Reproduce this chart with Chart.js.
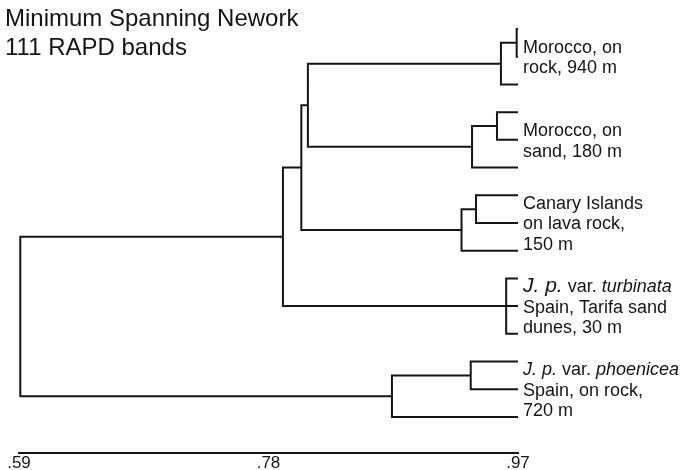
<!DOCTYPE html>
<html>
<head>
<meta charset="utf-8">
<script src="https://cdn.jsdelivr.net/npm/chart.js@4"></script>
<style>
  html, body { margin: 0; padding: 0; background: #fff; }
</style>
</head>
<body>
<canvas id="tree" width="686" height="470"></canvas>
<script>
// dendrogram of RAPD similarity, .59 - .97, leaves in rows 0..14 from the top

const INK = '#151515';
const FONT = '"Liberation Sans", Arial, sans-serif';

const titleLines = ['Minimum Spanning Nework', '111 RAPD bands'];
const axisTicks = [0.59, 0.78, 0.97];
const leafLevel = 0.97;
const rowSpan = 15.3; // rows shown above the scale bar

// joins: level where branches meet, and what they join
// (numbers are leaf rows, strings are other joins)
const nodeIds = ['root', 'west', 'mainland', 'morocco', 'rock', 'rockSub', 'sand', 'sandSub',
  'canary', 'canarySub', 'turbinata', 'phoenicea', 'phoeniceaSub'];
const nodeLevels = [0.591, 0.791, 0.805, 0.810, 0.957, 0.969, 0.935, 0.954,
  0.927, 0.938, 0.961, 0.874, 0.934];
const nodeChildren = [
  ['west', 'phoenicea'],
  ['mainland', 'turbinata'],
  ['morocco', 'canary'],
  ['rock', 'sand'],
  ['rockSub', 2],
  [0, 1],
  ['sandSub', 5],
  [3, 4],
  ['canarySub', 8],
  [6, 7],
  [9, 10, 11],
  ['phoeniceaSub', 14],
  [12, 13]
];

// cluster labels, centred on a leaf row; *...* italic, #...# larger italic
const labelRows = [1, 4, 7, 10, 13];
const labelText = [
  ['Morocco, on', 'rock, 940 m'],
  ['Morocco, on', 'sand, 180 m'],
  ['Canary Islands', 'on lava rock,', '150 m'],
  ['#J. p.# var. *turbinata*', 'Spain, Tarifa sand', 'dunes, 30 m'],
  ['*J. p.* var. *phoenicea*', 'Spain, on rock,', '720 m']
];

function levelOf(ref) {
  return typeof ref === 'number' ? leafLevel : nodeLevels[nodeIds.indexOf(ref)];
}

function rowOf(ref) {
  if (typeof ref === 'number') return ref;
  const kids = nodeChildren[nodeIds.indexOf(ref)].map(rowOf);
  return (Math.min(...kids) + Math.max(...kids)) / 2;
}

// elbow polylines, broken with NaN points
const branchPoints = [];
nodeIds.forEach((id, i) => {
  const lvl = nodeLevels[i];
  const kids = nodeChildren[i];
  const first = kids[0];
  const last = kids[kids.length - 1];
  branchPoints.push(
    { x: levelOf(first), y: rowOf(first) },
    { x: lvl, y: rowOf(first) },
    { x: lvl, y: rowOf(last) },
    { x: levelOf(last), y: rowOf(last) },
    { x: NaN, y: NaN }
  );
  kids.slice(1, -1).forEach(k => {
    branchPoints.push({ x: lvl, y: rowOf(k) }, { x: levelOf(k), y: rowOf(k) }, { x: NaN, y: NaN });
  });
});

const textPlugin = {
  id: 'treeText',
  afterDraw(chart) {
    const { ctx } = chart;
    const x = chart.scales.x;
    const y = chart.scales.y;
    ctx.save();
    ctx.fillStyle = INK;
    ctx.textBaseline = 'alphabetic';
    ctx.textAlign = 'left';

    ctx.font = `24px ${FONT}`;
    titleLines.forEach((t, i) => ctx.fillText(t, 5, 26 + i * 29));

    const left = x.getPixelForValue(leafLevel) + 5;
    labelText.forEach((lines, i) => {
      const mid = y.getPixelForValue(labelRows[i]);
      lines.forEach((line, j) => {
        const base = mid + (j - (lines.length - 1) / 2) * 20.5 + 6.5;
        let cx = left;
        line.match(/\*[^*]+\*|#[^#]+#|[^*#]+/g).forEach(part => {
          let font = `18px ${FONT}`;
          if (part[0] === '*') font = `italic 18px ${FONT}`;
          if (part[0] === '#') font = `italic 21px ${FONT}`;
          const text = part.replace(/[*#]/g, '');
          ctx.font = font;
          ctx.fillText(text, cx, base);
          cx += ctx.measureText(text).width;
        });
      });
    });
    ctx.restore();
  }
};

new Chart(document.getElementById('tree'), {
  type: 'scatter',
  data: {
    datasets: [{
      data: branchPoints,
      showLine: true,
      spanGaps: false,
      borderColor: INK,
      borderWidth: 2,
      borderJoinStyle: 'miter',
      borderCapStyle: 'butt',
      tension: 0,
      pointRadius: 0,
      pointHoverRadius: 0,
      clip: false,
    }]
  },
  options: {
    responsive: false,
    animation: false,
    events: [],
    layout: { padding: { left: 19, right: 168, top: 29, bottom: -4 } },
    plugins: {
      legend: { display: false },
      tooltip: { enabled: false }
    },
    scales: {
      x: {
        type: 'linear',
        min: 0.59,
        max: 0.97,
        grid: { display: false, drawTicks: false },
        border: { display: true, color: INK, width: 2 },
        afterBuildTicks: axis => { axis.ticks = axisTicks.map(v => ({ value: v })); },
        ticks: {
          color: INK,
          padding: 2,
          maxRotation: 0,
          autoSkip: false,
          font: { family: FONT, size: 17, lineHeight: 1 },
          callback: v => String(v).replace(/^0/, '')
        }
      },
      y: {
        type: 'linear',
        reverse: true,
        min: 0,
        max: rowSpan,
        display: false
      }
    }
  },
  plugins: [textPlugin]
});
</script>
</body>
</html>
